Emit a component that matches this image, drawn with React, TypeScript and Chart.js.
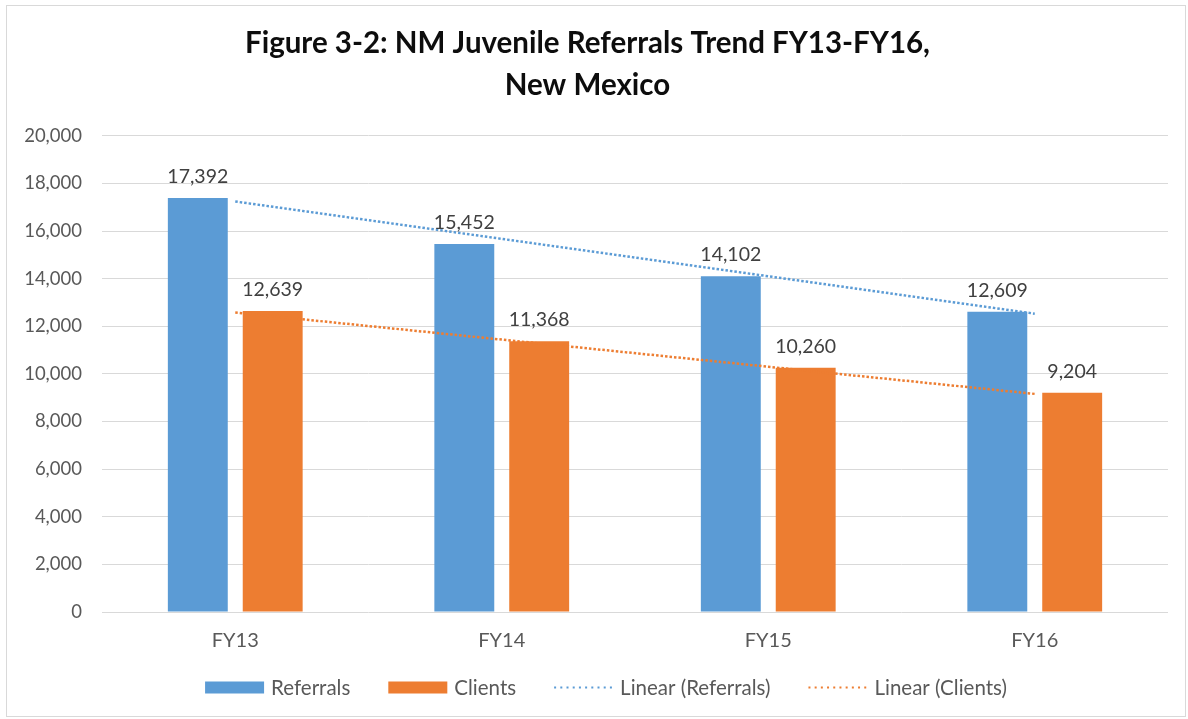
import React, { useEffect, useRef } from "react";
import { Chart, registerables } from "chart.js";

Chart.register(...registerables);

// ---- data ----
const categories = ["FY13", "FY14", "FY15", "FY16"];
const referrals = [17392, 15452, 14102, 12609];
const clients = [12639, 11368, 10260, 9204];
const referralsTrend = [17240, 15670, 14100, 12530];
const clientsTrend = [12580, 11440, 10300, 9160];
const yMin = 0;
const yMax = 20000;
const yStep = 2000;
const titleLines = ["Figure 3-2: NM Juvenile Referrals Trend FY13-FY16,", "New Mexico"];
const seriesNames = ["Referrals", "Clients", "Linear (Referrals)", "Linear (Clients)"];

// ---- styles ----
const FONT = "Lato, 'Open Sans', sans-serif";
const BLUE = "#5b9bd5";
const ORANGE = "#ed7d31";
const GRID = "#d9d9d9";
const AXIS_TEXT = "#595959";
const LABEL_TEXT = "#404040";
const DOT_DASH = [2.5, 2];
const LEGEND_DASH = [2, 4.2];

const fmt = (v: number) => v.toLocaleString("en-US");

const dataLabelPlugin = {
  id: "dataLabels",
  afterDatasetsDraw(chart: any) {
    const ctx = chart.ctx;
    ctx.save();
    ctx.font = `19.5px ${FONT}`;
    ctx.fillStyle = LABEL_TEXT;
    ctx.textAlign = "center";
    ctx.textBaseline = "alphabetic";
    chart.data.datasets.forEach((ds: any, i: number) => {
      if (ds.type === "line") return;
      const meta = chart.getDatasetMeta(i);
      meta.data.forEach((el: any, j: number) => {
        ctx.fillText(fmt(ds.data[j]), el.x, el.y - 15);
      });
    });
    ctx.restore();
  },
};

const legendPlugin = {
  id: "customLegend",
  afterDraw(chart: any) {
    const ctx = chart.ctx;
    ctx.save();
    ctx.font = `20.5px ${FONT}`;
    const swW = 59;
    const swH = 12;
    const gap = 7;
    const spacing = 38;
    const items = chart.data.datasets.map((ds: any) => ({
      label: ds.label,
      color: ds.type === "line" ? ds.borderColor : ds.backgroundColor,
      line: ds.type === "line",
    }));
    const widths = items.map((it: any) => swW + gap + ctx.measureText(it.label).width);
    const total = widths.reduce((a: number, b: number) => a + b, 0) + spacing * (items.length - 1);
    const cx = 599;
    const cy = 681.5;
    let x = cx - total / 2;
    items.forEach((it: any, i: number) => {
      if (it.line) {
        ctx.save();
        ctx.strokeStyle = it.color;
        ctx.lineWidth = 2;
        ctx.setLineDash(LEGEND_DASH);
        ctx.beginPath();
        ctx.moveTo(x, cy);
        ctx.lineTo(x + swW, cy);
        ctx.stroke();
        ctx.restore();
      } else {
        ctx.fillStyle = it.color;
        ctx.fillRect(x, cy - swH / 2, swW, swH);
      }
      ctx.fillStyle = AXIS_TEXT;
      ctx.textAlign = "left";
      ctx.textBaseline = "middle";
      ctx.fillText(it.label, x + swW + gap, cy + 1);
      x += widths[i] + spacing;
    });
    ctx.restore();
  },
};

export default function App() {
  const ref = useRef<HTMLCanvasElement | null>(null);

  useEffect(() => {
    if (!ref.current) return;
    const chart = new Chart(ref.current, {
      type: "bar",
      data: {
        labels: categories,
        datasets: [
          {
            type: "bar",
            label: seriesNames[0],
            data: referrals,
            backgroundColor: BLUE,
            categoryPercentage: 0.562,
            barPercentage: 0.8,
            order: 2,
          },
          {
            type: "bar",
            label: seriesNames[1],
            data: clients,
            backgroundColor: ORANGE,
            categoryPercentage: 0.562,
            barPercentage: 0.8,
            order: 2,
          },
          {
            type: "line",
            label: seriesNames[2],
            data: referralsTrend,
            borderColor: BLUE,
            backgroundColor: BLUE,
            borderWidth: 2.5,
            borderDash: DOT_DASH,
            pointRadius: 0,
            fill: false,
            tension: 0,
            order: 1,
          },
          {
            type: "line",
            label: seriesNames[3],
            data: clientsTrend,
            borderColor: ORANGE,
            backgroundColor: ORANGE,
            borderWidth: 2.5,
            borderDash: DOT_DASH,
            pointRadius: 0,
            fill: false,
            tension: 0,
            order: 1,
          },
        ] as any,
      },
      options: {
        responsive: false,
        animation: false,
        layout: { padding: { left: 0, right: 17, top: 0, bottom: 64 } },
        plugins: {
          legend: { display: false },
          tooltip: { enabled: false },
          title: {
            display: true,
            text: titleLines,
            color: "#0d0d0d",
            font: { family: FONT, size: 29.5, weight: "bold", lineHeight: 1.42 },
            padding: { top: 17, bottom: 29 },
          },
        },
        scales: {
          x: {
            grid: { display: false, drawTicks: false },
            border: { display: false },
            ticks: { padding: 17, color: AXIS_TEXT, font: { family: FONT, size: 20 } },
            afterFit: (s: any) => {
              s.height = 40;
            },
          },
          y: {
            min: yMin,
            max: yMax,
            grid: { color: GRID, lineWidth: 1, drawTicks: false },
            border: { display: false },
            ticks: {
              stepSize: yStep,
              padding: 20,
              color: AXIS_TEXT,
              font: { family: FONT, size: 18.5 },
              callback: (v: any) => fmt(Number(v)),
            },
            afterFit: (s: any) => {
              s.width = 95;
            },
          },
        },
      } as any,
      plugins: [dataLabelPlugin, legendPlugin],
    });
    return () => chart.destroy();
  }, []);

  return (
    <div
      style={{
        position: "absolute",
        left: 6,
        top: 5,
        width: 1180,
        height: 712,
        boxSizing: "border-box",
        border: "1px solid #d9d9d9",
        background: "#fff",
      }}
    >
      <canvas ref={ref} width={1178} height={710} style={{ display: "block", width: 1178, height: 710 }} />
    </div>
  );
}
